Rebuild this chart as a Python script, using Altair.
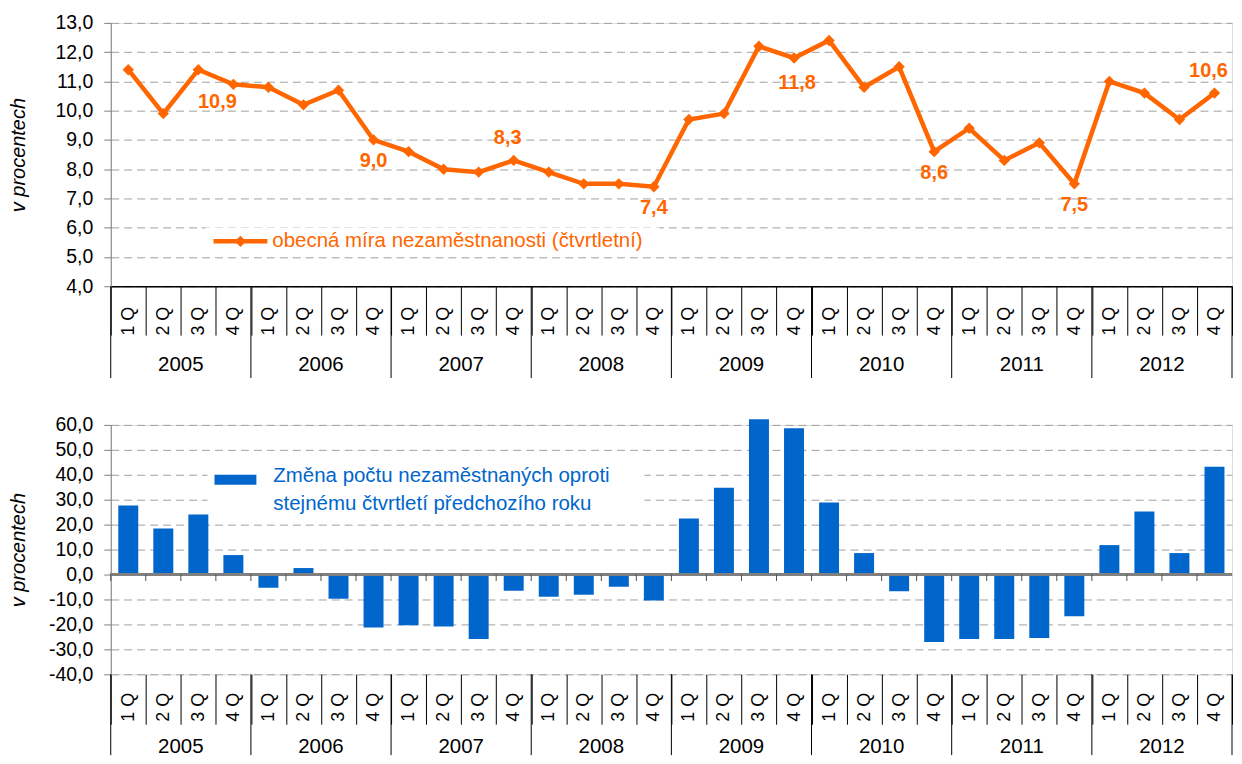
import altair as alt
import pandas as pd

years = ["2005", "2006", "2007", "2008", "2009", "2010", "2011", "2012"]
quarters = ["1 Q", "2 Q", "3 Q", "4 Q"]

# obecná míra nezaměstnanosti (čtvrtletní), v %
rate = [11.4, 9.9, 11.4, 10.9,
        10.8, 10.2, 10.7, 9.0,
        8.6, 8.0, 7.9, 8.3,
        7.9, 7.5, 7.5, 7.4,
        9.7, 9.9, 12.2, 11.8,
        12.4, 10.8, 11.5, 8.6,
        9.4, 8.3, 8.9, 7.5,
        11.0, 10.6, 9.7, 10.6]

# změna počtu nezaměstnaných oproti stejnému čtvrtletí předchozího roku, v %
change = [27.7, 18.5, 24.1, 7.8,
          -5.3, 2.6, -9.7, -21.2,
          -20.3, -20.8, -25.8, -6.5,
          -8.9, -8.1, -4.9, -10.4,
          22.5, 34.8, 62.3, 58.7,
          28.9, 8.6, -6.7, -27.1,
          -25.8, -25.8, -25.4, -16.7,
          11.8, 25.3, 8.6, 43.2]

legend_top = "obecná míra nezaměstnanosti (čtvrtletní)"
legend_bottom = ["Změna počtu nezaměstnaných oproti", "stejnému čtvrtletí předchozího roku"]
y_title = "v procentech"
y_ticks_top = [4, 5, 6, 7, 8, 9, 10, 11, 12, 13]
y_ticks_bottom = [-40, -30, -20, -10, 0, 10, 20, 30, 40, 50, 60]

# labelled points (4th quarters), grouped by where the label sits
label_groups = {
    "below": [7, 15, 23, 27],
    "below_far": [19],
    "above": [11, 31],
    "below_left": [3],
}
label_offsets = {"below": (0, 21), "below_far": (3, 25), "above": (-6, -22), "below_left": (-16, 18)}

ORANGE = "#FF6600"
BLUE = "#0066CC"
FONT = "Liberation Sans"
W = 1124
H1 = 264
H2 = 250

n = len(rate)
df = pd.DataFrame({
    "idx": list(range(n)),
    "year": [years[i // 4] for i in range(n)],
    "quarter": [quarters[i % 4] for i in range(n)],
    "rate": rate,
    "change": change,
})
df["lbl"] = [f"{v:.1f}".replace(".", ",") for v in rate]

ydf = pd.DataFrame({
    "year": years,
    "first": [4 * k for k in range(len(years))],
    "mid": [4 * k + 1 for k in range(len(years))],
})
enddf = pd.DataFrame({"last": [n - 1]})

num_expr = "replace(replace(format(datum.value, '.1f'), '.', ','), '\u2212', '-')"
q_expr = "isValid(datum.value) ? ((datum.value % 4 + 1) + ' Q') : ''"


def x_axis(tick, pad, domain):
    return alt.Axis(title=None, labelExpr=q_expr, labelAngle=-90, tickBand="extent",
                    tickSize=tick, labelPadding=pad, tickColor="black", domain=domain,
                    domainColor="black", domainWidth=1.5,
                    labelFont=FONT, labelFontSize=18, labelColor="black", grid=False,
                    labelOverlap=False)


def y_axis(vals):
    return alt.Axis(title=y_title, values=vals, tickCount=len(vals) + 5, labelExpr=num_expr,
                    titleFont=FONT, titleFontSize=20, titleFontStyle="italic",
                    titleFontWeight="normal", titleColor="black",
                    labelFont=FONT, labelFontSize=19.5, labelColor="black", labelOverlap=False,
                    tickSize=7, tickColor="#808080", domainColor="#808080", labelPadding=11,
                    minExtent=70, maxExtent=70, titlePadding=12,
                    grid=True, gridColor="#A0A0A0", gridDash=[8, 5], gridWidth=1)


def year_layers(base_h, sep_len, label_off):
    seps = alt.Chart(ydf).mark_rule(color="black", strokeWidth=1).encode(
        x=alt.X("first:O", bandPosition=0),
        y=alt.value(base_h), y2=alt.value(base_h + sep_len))
    sep_end = alt.Chart(enddf).mark_rule(color="black", strokeWidth=1).encode(
        x=alt.X("last:O", bandPosition=1),
        y=alt.value(base_h), y2=alt.value(base_h + sep_len))
    txt = alt.Chart(ydf).mark_text(font=FONT, fontSize=20.5, color="black", baseline="middle").encode(
        x=alt.X("mid:O", bandPosition=1),
        y=alt.value(base_h + label_off), text="year:N")
    return [seps, sep_end, txt]


# ---------------- top chart ----------------
xs1 = alt.X("idx:O", scale=alt.Scale(paddingInner=0, paddingOuter=0), axis=x_axis(49, -29, True))
ys1 = alt.Y("rate:Q", scale=alt.Scale(domain=[4, 13], nice=False), axis=y_axis(y_ticks_top))

base1 = alt.Chart(df)
line = base1.mark_line(color=ORANGE, strokeWidth=4.5).encode(x=xs1, y=ys1)
pts = base1.mark_point(shape="diamond", filled=True, size=130, color=ORANGE, opacity=1).encode(x=xs1, y=ys1)

label_layers = []
for g, members in label_groups.items():
    dx, dy = label_offsets[g]
    label_layers.append(
        base1.transform_filter(alt.FieldOneOfPredicate(field="idx", oneOf=members)).mark_text(
            font=FONT, fontSize=20, fontWeight="bold", color=ORANGE, dx=dx, dy=dy,
            baseline="middle").encode(x=xs1, y=ys1, text="lbl:N"))

leg1_df = pd.DataFrame({"t": [legend_top]})
leg1_bg = alt.Chart(leg1_df).mark_rect(color="white").encode(
    x=alt.value(95), x2=alt.value(550), y=alt.value(205), y2=alt.value(233))
leg1_line = alt.Chart(leg1_df).mark_rule(color=ORANGE, strokeWidth=4.5).encode(
    x=alt.value(103), x2=alt.value(157), y=alt.value(219))
leg1_pt = alt.Chart(leg1_df).mark_point(shape="diamond", filled=True, size=130, color=ORANGE, opacity=1).encode(
    x=alt.value(130), y=alt.value(219))
leg1_txt = alt.Chart(leg1_df).mark_text(font=FONT, fontSize=20.5, color=ORANGE, align="left", baseline="middle").encode(
    x=alt.value(162), y=alt.value(219), text="t:N")

top = alt.layer(leg1_bg, line, pts, *label_layers, leg1_line, leg1_pt, leg1_txt,
                *year_layers(H1, 92, 79)).properties(width=W, height=H1)

# ---------------- bottom chart ----------------
xs2 = alt.X("idx:O", scale=alt.Scale(paddingInner=0, paddingOuter=0), axis=x_axis(50, -32, False))
ys2 = alt.Y("change:Q", scale=alt.Scale(domain=[-40, 60], nice=False), axis=y_axis(y_ticks_bottom))

base2 = alt.Chart(df)
bars = base2.mark_bar(color=BLUE, width=alt.RelativeBandSize(0.57)).encode(x=xs2, y=ys2)
zero = base2.mark_rule(color="#808080", strokeWidth=2).encode(y=alt.datum(0))
zticks = base2.mark_rule(color="#505050", strokeWidth=1).encode(
    x=alt.X("idx:O", bandPosition=0), y=alt.datum(0), y2=alt.datum(-2.6))

leg2_df = pd.DataFrame({"t": legend_bottom, "k": [0, 1]})
leg2_bg = alt.Chart(leg2_df.head(1)).mark_rect(color="white").encode(
    x=alt.value(97), x2=alt.value(535), y=alt.value(37), y2=alt.value(94))
leg2_box = alt.Chart(leg2_df.head(1)).mark_rect(color=BLUE).encode(
    x=alt.value(104), x2=alt.value(146), y=alt.value(50), y2=alt.value(60))
leg2_t1 = alt.Chart(leg2_df.head(1)).mark_text(font=FONT, fontSize=20.5, color=BLUE, align="left", baseline="middle").encode(
    x=alt.value(163), y=alt.value(51), text="t:N")
leg2_t2 = alt.Chart(leg2_df.tail(1)).mark_text(font=FONT, fontSize=20.5, color=BLUE, align="left", baseline="middle").encode(
    x=alt.value(163), y=alt.value(79), text="t:N")

bottom = alt.layer(leg2_bg, bars, zero, zticks, leg2_box, leg2_t1, leg2_t2,
                   *year_layers(H2, 81, 73)).properties(width=W, height=H2)

chart = alt.vconcat(top, bottom, spacing=35).properties(
    padding={"left": 0, "top": 3, "right": 0, "bottom": 0}
).configure_view(stroke=None).configure(font=FONT)

chart.save("out.html", embed_options={"renderer": "svg", "actions": False})
